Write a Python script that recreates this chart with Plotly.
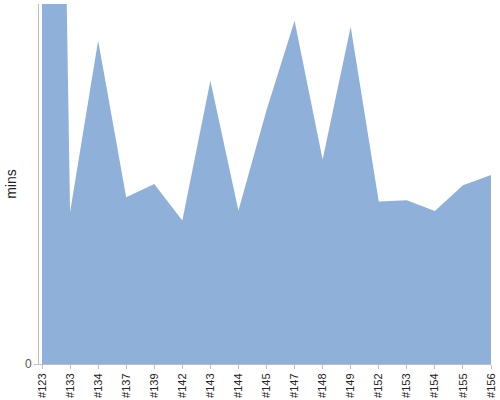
"""Área de minutos por rodada (reprodução do gráfico de referência)."""

import plotly.graph_objects as go

# -- dados ---------------------------------------------------------------

rodadas = [
    "#123", "#133", "#134", "#137", "#139", "#142", "#143", "#144", "#145",
    "#147", "#148", "#149", "#152", "#153", "#154", "#155", "#156",
]
minutos = [
    320, 25.3, 53.9, 27.8, 30.0, 23.9, 47.2, 25.6, 42.3,
    57.2, 34.1, 56.2, 27.1, 27.3, 25.5, 29.8, 31.5,
]
y_ticks = [0]

COR_AREA = "rgb(143,177,217)"
COR_EIXO = "#bdbdbd"

fig = go.Figure(
    go.Scatter(
        x=list(range(len(rodadas))),
        y=minutos,
        mode="lines",
        fill="tozeroy",
        fillcolor=COR_AREA,
        line=dict(width=0, color=COR_AREA),
        hoverinfo="skip",
    )
)

fig.update_layout(
    width=500,
    height=400,
    margin=dict(l=39, r=9, t=4, b=36),
    paper_bgcolor="white",
    plot_bgcolor="white",
    showlegend=False,
    font=dict(family="Liberation Sans, Arial, sans-serif", size=11, color="#333"),
)

fig.update_xaxes(
    automargin=False,
    tickmode="array",
    tickvals=list(range(len(rodadas))),
    ticktext=rodadas,
    tickangle=-90,
    range=[-0.107, len(rodadas) - 1],
    showgrid=False,
    zeroline=False,
    showline=True,
    linecolor=COR_EIXO,
    linewidth=1,
    ticks="outside",
    ticklen=4,
    tickcolor=COR_EIXO,
    tickfont=dict(size=11, color="#222"),
)

fig.update_yaxes(
    automargin=False,
    title=dict(text="mins", font=dict(size=14, color="#222"), standoff=5),
    tickmode="array",
    tickvals=y_ticks,
    range=[0, 60],
    showgrid=False,
    zeroline=False,
    showline=True,
    linecolor=COR_EIXO,
    linewidth=1,
    ticks="outside",
    ticklen=4,
    tickcolor=COR_EIXO,
    tickfont=dict(size=12, color="#555"),
)

# a página tem margem padrão de 8px no body; zera para alinhar com a referência
fig.write_html(
    "out.html",
    config={"displayModeBar": False},
    post_script="document.body.style.margin = '0';",
)
